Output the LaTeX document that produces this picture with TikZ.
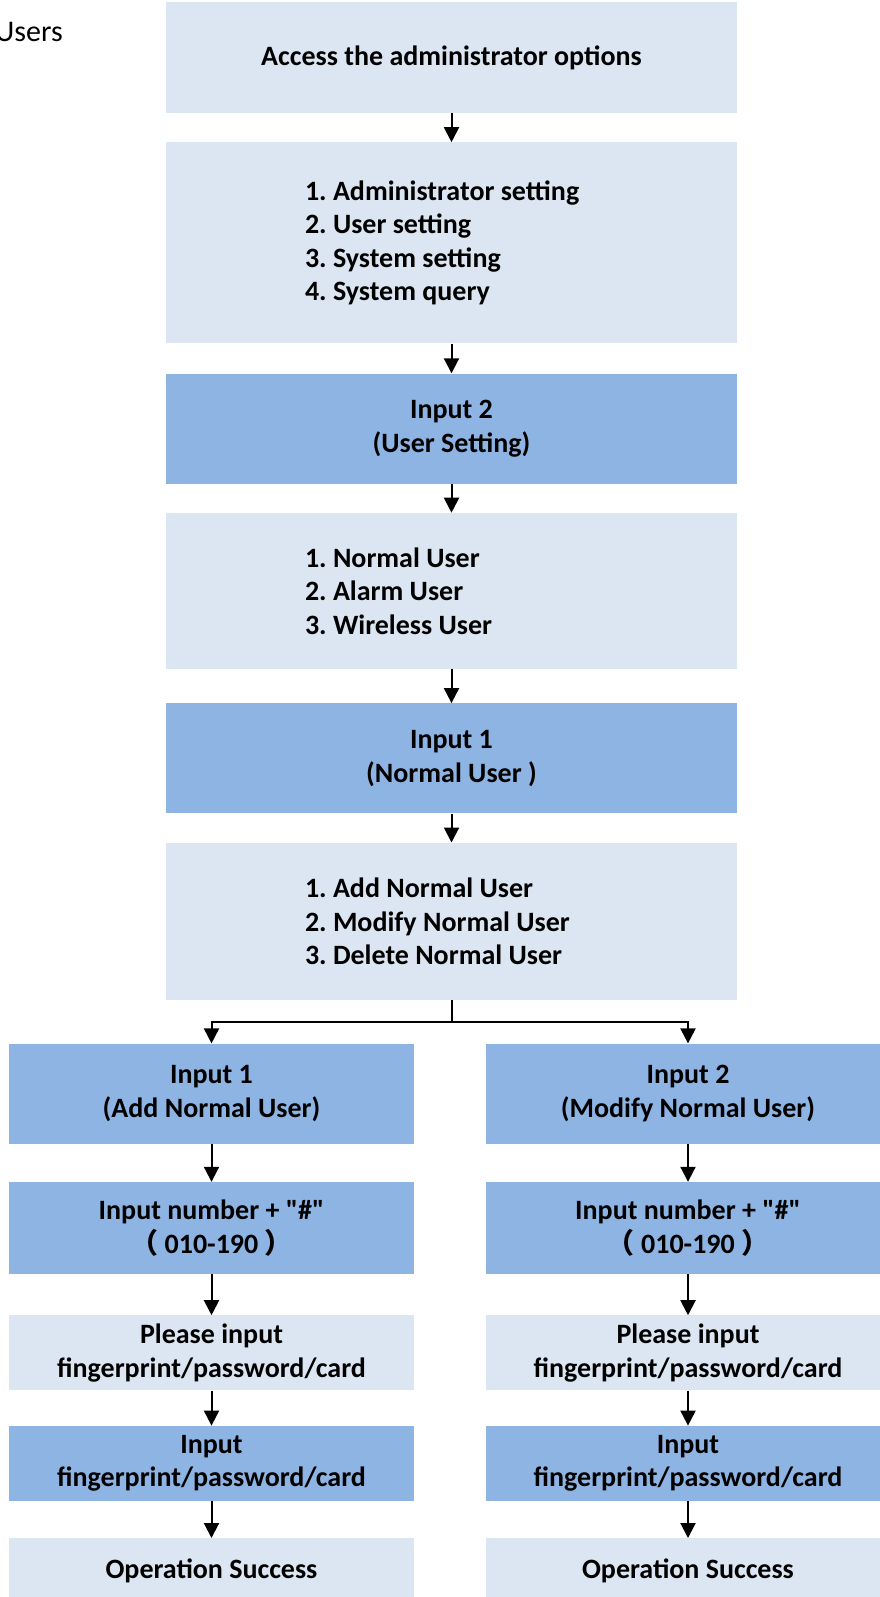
\documentclass[tikz,border=0pt]{standalone}
\usepackage{fontspec}
\setmainfont{Carlito}
\newfontfamily\cjk{Noto Sans CJK SC}
\usetikzlibrary{arrows.meta, positioning}
\definecolor{paleblue}{RGB}{220,230,242}
\definecolor{midblue}{RGB}{142,180,227}
\frenchspacing

\begin{document}
\begin{tikzpicture}[
x=1pt, y=1pt,
box/.style={rectangle, inner sep=0pt, align=center, font=\bfseries\fontsize{28}{33.5}\selectfont},
light/.style={box, fill=paleblue},
dark/.style={box, fill=midblue},
wide/.style={minimum width=571pt},
narrow/.style={minimum width=405pt},
items/.style={inner sep=0pt, align=left, font=\bfseries\fontsize{28}{33.5}\selectfont},
arrow/.style={-{Triangle[length=15pt, width=15pt]}, line width=2pt}
]
\useasboundingbox (0,0) rectangle (880,-1597);
\clip (0,0) rectangle (880,-1597);

\node[anchor=base east, inner sep=0pt, font=\fontsize{30}{36}\selectfont] (title) at (63,-42) {Users};

% main column
\node[light, wide, minimum height=111pt] (A) at (451.5,-57.5) {Access the administrator options};
\node[light, wide, minimum height=201pt, below=29pt of A] (B) {};
\node[items, right=139pt of B.west] (Blist) {1. Administrator setting\\2. User setting\\3. System setting\\4. System query};
\node[dark, wide, minimum height=110pt, below=29.7pt of B] (C) {Input 2\\(User Setting)};
\node[light, wide, minimum height=156pt, below=29pt of C] (D) {};
\node[items, right=139pt of D.west] (Dlist) {1. Normal User\\2. Alarm User\\3. Wireless User};
\node[dark, wide, minimum height=110pt, below=34pt of D] (E) {Input 1\\(Normal User )};
\node[light, wide, minimum height=157.5pt, below=29pt of E] (F) {};
\node[items, right=139pt of F.west] (Flist) {1. Add Normal User\\2. Modify Normal User\\3. Delete Normal User};

% left branch
\node[dark, narrow, minimum height=100pt, below=43pt of F, xshift=-240pt] (G1) {Input 1\\(Add Normal User)};
\node[dark, narrow, minimum height=92pt, below=38pt of G1] (H1) {Input number + \textquotedbl\#\textquotedbl\\{\cjk （} 010-190 {\cjk ）}};
\node[light, narrow, minimum height=75pt, below=41pt of H1] (I1) {Please input\\fingerprint/password/card};
\node[dark, narrow, minimum height=75pt, below=35pt of I1] (J1) {Input\\fingerprint/password/card};
\node[light, narrow, minimum height=66pt, below=37pt of J1] (K1) {Operation Success};

% right branch
\node[dark, narrow, minimum height=100pt, below=43pt of F, xshift=236.5pt] (G2) {Input 2\\(Modify Normal User)};
\node[dark, narrow, minimum height=92pt, below=38pt of G2] (H2) {Input number + \textquotedbl\#\textquotedbl\\{\cjk （} 010-190 {\cjk ）}};
\node[light, narrow, minimum height=75pt, below=41pt of H2] (I2) {Please input\\fingerprint/password/card};
\node[dark, narrow, minimum height=75pt, below=35pt of I2] (J2) {Input\\fingerprint/password/card};
\node[light, narrow, minimum height=66pt, below=37pt of J2] (K2) {Operation Success};

\draw[arrow] (A) -- (B);
\draw[arrow] (B) -- (C);
\draw[arrow] (C) -- (D);
\draw[arrow] (D) -- (E);
\draw[arrow] (E) -- (F);
\draw[arrow] (F.south) -- ++(0,-22) -| (G1.north);
\draw[arrow] (F.south) -- ++(0,-22) -| (G2.north);

\draw[arrow] (G1) -- (H1);
\draw[arrow] (H1) -- (I1);
\draw[arrow] (I1) -- (J1);
\draw[arrow] (J1) -- (K1);
\draw[arrow] (G2) -- (H2);
\draw[arrow] (H2) -- (I2);
\draw[arrow] (I2) -- (J2);
\draw[arrow] (J2) -- (K2);

\end{tikzpicture}
\end{document}
